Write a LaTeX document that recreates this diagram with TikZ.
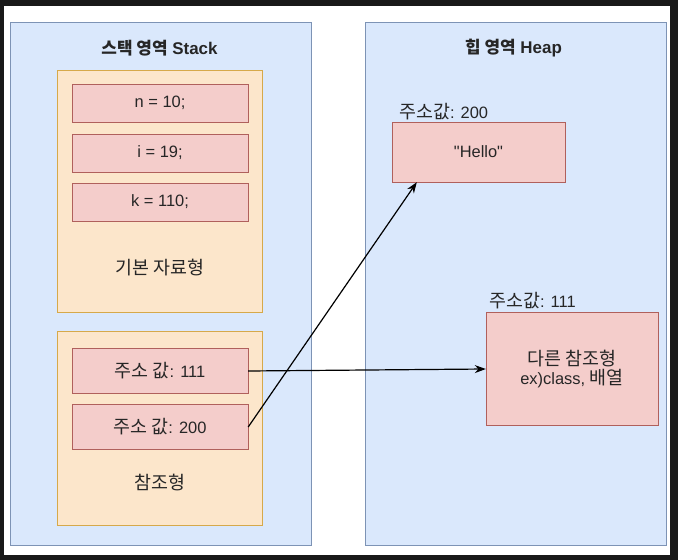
\documentclass[tikz,border=0pt]{standalone}
\usepackage{fontspec}
\setmainfont{Liberation Sans}
\newfontfamily\plainfont{Liberation Sans}
\newfontfamily\kr[Scale=1.12]{Noto Sans CJK KR}
\newfontfamily\krhead{Noto Sans CJK KR}
\usetikzlibrary{arrows.meta}
\definecolor{areafill}{HTML}{DAE8FC}
\definecolor{areaedge}{HTML}{7D93B5}
\definecolor{groupfill}{HTML}{FCE6CB}
\definecolor{groupedge}{HTML}{D6A94A}
\definecolor{cellfill}{HTML}{F4CDCB}
\definecolor{celledge}{HTML}{B0605C}

\begin{document}
\begin{tikzpicture}[x=1bp,y=-1bp,>={Stealth[length=11bp,width=8bp]},
  font=\fontsize{16.5}{19.5}\selectfont,text=black!85,
  area/.style={draw=areaedge,fill=areafill,minimum width=301bp,minimum height=523bp,inner sep=0pt},
  group/.style={draw=groupedge,fill=groupfill,minimum width=205bp,inner sep=0pt},
  cell/.style={draw=celledge,fill=cellfill,minimum width=176bp,minimum height=38bp,inner sep=0pt},
  title/.style={font=\fontsize{17}{20}\selectfont\bfseries},
  addr/.style={anchor=west,inner sep=0pt},
  link/.style={->,line width=1.2bp,black}]
  % frame of the screenshot
  \fill[black!90] (0,0) rectangle (678,560);
  \fill[white] (4,6) rectangle (670,555);
  % the two memory areas
  \node[area] (stack) at (160.5,283.5) {};
  \node[area] (heap) at (515.5,283.5) {};
  \node[title] (stacktitle) at (159.5,48) {{\krhead 스택 영역} Stack};
  \node[title] (heaptitle) at (513.5,48) {{\krhead 힙 영역} Heap};
  % stack: primitive values
  \node[group,minimum height=242bp] (prim) at (160,191) {};
  \node[cell] (n) at (160,103) {n = 10;};
  \node[cell] (i) at (160,153) {i = 19;};
  \node[cell] (k) at (160,202) {k = 110;};
  \node (primlabel) at (160,268) {\kr 기본 자료형};
  % stack: references
  \node[group,minimum height=194bp] (refs) at (160,428) {};
  \node[cell,minimum height=45bp] (p111) at (160,371) {{\kr 주소 값}: 111};
  \node[cell,minimum height=45bp] (p200) at (160,427) {{\kr 주소 값}: 200};
  \node (refslabel) at (160,483) {\kr 참조형};
  % heap objects
  \node[cell,minimum width=173bp,minimum height=60bp] (hello) at (478.5,152) {\plainfont "Hello"};
  \node[addr] (hellolabel) at (399,112) {{\kr 주소값}: 200};
  \node[cell,minimum width=172bp,minimum height=113bp,align=center] (other) at (572,369)
    {{\kr 다른 참조형}\\ex)class, {\kr 배열}};
  \node[addr] (otherlabel) at (489,301) {{\kr 주소값}: 111};
  % references
  \draw[link] (p111.east) -- (other.west);
  \draw[link] (p200.east) -- ([xshift=25bp]hello.south west);
\end{tikzpicture}
\end{document}
